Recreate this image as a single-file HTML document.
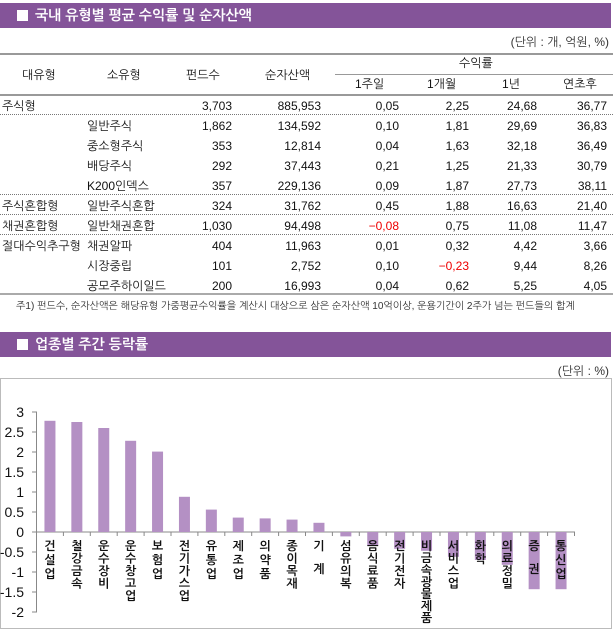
<!DOCTYPE html>
<html><head><meta charset="utf-8"><style>
body{margin:0;width:613px;height:631px;background:#fff;position:relative;font-family:"Liberation Sans","NanumGothic","Noto Sans CJK KR",sans-serif;font-size:12px;color:#111;overflow:hidden}
.bar{position:absolute;left:0;width:611px;height:25px;background:#845499;color:#fff;font-size:14px;font-weight:bold;line-height:25px}
.bar i{display:inline-block;width:11px;height:11px;background:#fff;margin:0 7px 0 17px;vertical-align:-1px}
.t{position:absolute;white-space:nowrap;line-height:14px}
.r{text-align:right}
.line{position:absolute;left:0;width:613px}
</style></head><body>
<div class="bar" style="top:3px"><i></i>국내 유형별 평균 수익률 및 순자산액</div>
<div class="t" style="right:4px;top:35px;color:#333">(단위 : 개, 억원, %)</div>
<div class="line" style="top:53px;border-top:2px solid #999"></div>
<div class="line" style="top:74px;left:335px;width:278px;border-top:1px solid #999"></div>
<div class="line" style="top:94px;border-top:2px solid #999"></div>
<div class="t" style="left:22px;top:68px">대유형</div>
<div class="t" style="left:107px;top:68px">소유형</div>
<div class="t" style="left:186px;top:68px">펀드수</div>
<div class="t" style="left:265px;top:68px">순자산액</div>
<div class="t" style="left:459px;top:56px">수익률</div>
<div class="t" style="left:355px;top:77px">1주일</div>
<div class="t" style="left:427px;top:77px">1개월</div>
<div class="t" style="left:502px;top:77px">1년</div>
<div class="t" style="left:563px;top:77px">연초후</div>
<div id="rows"></div>
<div class="line" style="top:114px;border-top:1px dotted #777"></div>
<div class="line" style="top:194px;border-top:1px dotted #777"></div>
<div class="line" style="top:214px;border-top:1px dotted #777"></div>
<div class="line" style="top:234px;border-top:1px dotted #777"></div>
<div class="line" style="top:293px;border-top:2px solid #aaa"></div>
<div class="t" style="left:16px;top:300px;font-size:10px;color:#333">주1) 펀드수, 순자산액은 해당유형 가중평균수익률을 계산시 대상으로 삼은 순자산액 10억이상, 운용기간이 2주가 넘는 펀드들의 합계</div>
<div class="bar" style="top:332px"><i></i>업종별 주간 등락률</div>
<div class="t" style="right:4px;top:364px;color:#333">(단위 : %)</div>
<svg style="position:absolute;left:0;top:0" width="613" height="631" id="ch"></svg>
<script>
var R=[["주식형","","3,703","885,953","0,05","2,25","24,68","36,77"],
["","일반주식","1,862","134,592","0,10","1,81","29,69","36,83"],
["","중소형주식","353","12,814","0,04","1,63","32,18","36,49"],
["","배당주식","292","37,443","0,21","1,25","21,33","30,79"],
["","K200인덱스","357","229,136","0,09","1,87","27,73","38,11"],
["주식혼합형","일반주식혼합","324","31,762","0,45","1,88","16,63","21,40"],
["채권혼합형","일반채권혼합","1,030","94,498","-0,08","0,75","11,08","11,47"],
["절대수익추구형","채권알파","404","11,963","0,01","0,32","4,42","3,66"],
["","시장중립","101","2,752","0,10","-0,23","9,44","8,26"],
["","공모주하이일드","200","16,993","0,04","0,62","5,25","4,05"]];
var rights=[232,321,399,469,537,607],h="";
R.forEach(function(r,i){var y=99+i*20;
h+='<div class="t" style="left:2px;top:'+y+'px">'+r[0]+'</div><div class="t" style="left:87px;top:'+y+'px">'+r[1]+'</div>';
for(var j=0;j<6;j++){var v=r[j+2],c=v[0]=="-"?"color:#e00;":"";h+='<div class="t r" style="'+c+'right:'+(613-rights[j])+'px;top:'+y+'px">'+v.replace("-","−")+'</div>';}});
document.getElementById("rows").innerHTML=h;
var vals=[2.78,2.75,2.6,2.28,2.01,0.88,0.56,0.36,0.34,0.31,0.23,-0.11,-0.35,-0.42,-0.47,-0.62,-0.7,-0.82,-1.43,-1.43];
function st(n,s){var a=[];for(var i=0;i<n;i++)a.push(545+i*s);return a;}
var L=[["건설업",st(3,14)],["철강금속",st(4,12.5)],["운수장비",st(4,12.5)],["운수창고업",st(5,12.5)],["보험업",st(3,14)],["전기가스업",st(5,12.5)],["유통업",st(3,14)],["제조업",st(3,14)],["의약품",st(3,14)],["종이목재",st(4,12.5)],["기계",[545,568]],["섬유의복",st(4,12.5)],["음식료품",st(4,12.5)],["전기전자",st(4,12.5)],["비금속광물제품",st(7,12)],["서비스업",st(4,12.5)],["화학",[545,558]],["의료정밀",st(4,12.5)],["증권",[545,568]],["통신업",st(3,14)]];
var s='<rect x="0.5" y="378.5" width="611" height="250" fill="none" stroke="#bbb"/>';
var z=532,u=40,x0=36.5,w=26.9;
for(var k=-2;k<=3;k+=0.5){var y=z-k*u;s+='<line x1="32" x2="37" y1="'+y+'" y2="'+y+'" stroke="#888"/><text x="24" y="'+(y+5)+'" text-anchor="end" font-size="14" fill="#111">'+(k<0?"-":"")+Math.abs(k)+'</text>';}
s+='<line x1="36.5" x2="36.5" y1="412" y2="612" stroke="#888"/><line x1="36.5" x2="575" y1="532" y2="532" stroke="#888"/>';
for(var i=0;i<=20;i++){var xx=x0+i*w;s+='<line x1="'+xx+'" x2="'+xx+'" y1="532" y2="536" stroke="#888"/>';}
vals.forEach(function(v,i){var cx=x0+w*i+w/2,y=v>0?z-v*u:z,hh=Math.abs(v)*u;s+='<rect x="'+(cx-5.5)+'" y="'+y+'" width="11" height="'+hh+'" fill="#b490c4"/>';
var ch=L[i][0],ys=L[i][1];for(var c=0;c<ch.length;c++)s+='<text x="'+cx+'" y="'+(ys[c]+5)+'" text-anchor="middle" font-size="12" font-weight="bold" fill="#111">'+ch[c]+'</text>';});
document.getElementById("ch").innerHTML=s;
</script>
</body></html>
